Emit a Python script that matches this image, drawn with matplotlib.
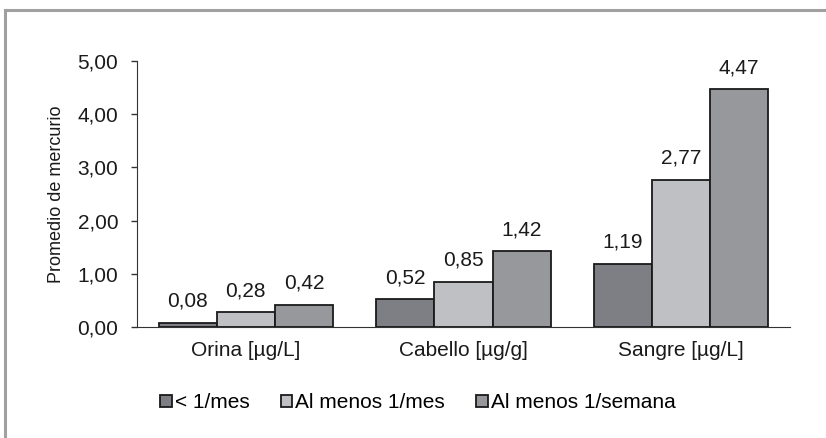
import numpy as np
import matplotlib.pyplot as plt
from matplotlib.lines import Line2D

plt.rcParams['font.family'] = ['Liberation Sans', 'DejaVu Sans']

categories = ["Orina [µg/L]", "Cabello [µg/g]", "Sangre [µg/L]"]
series_names = ["< 1/mes", "Al menos 1/mes", "Al menos 1/semana"]
menos_mes = [0.08, 0.52, 1.19]
al_menos_mes = [0.28, 0.85, 2.77]
al_menos_semana = [0.42, 1.42, 4.47]
colors = ["#7e7f84", "#bfc0c4", "#97989c"]


def fmt(v):
    return ("%.2f" % v).replace(".", ",")


fig = plt.figure(figsize=(8.26, 4.38), dpi=100)
ax = fig.add_axes([137 / 826, 1 - 327 / 438, (790 - 137) / 826, (327 - 61) / 438])

# partial grey frame (top and left edges)
fig.add_artist(Line2D([5 / 826, 1.01], [1 - 10 / 438, 1 - 10 / 438], color="#a0a0a0", lw=2.2,
                      transform=fig.transFigure))
fig.add_artist(Line2D([5 / 826, 5 / 826], [-0.01, 1 - 10 / 438], color="#a0a0a0", lw=2.2,
                      transform=fig.transFigure))

x = np.arange(len(categories))
w = 1 / 3.75
data = [menos_mes, al_menos_mes, al_menos_semana]
for i, vals in enumerate(data):
    pos = x + (i - 1) * w
    bars = ax.bar(pos, vals, w, color=colors[i], edgecolor="#1a1a1a", linewidth=1.3,
                  label=series_names[i], zorder=3)
    for b, v in zip(bars, vals):
        ax.annotate(fmt(v), (b.get_x() + b.get_width() / 2, v), xytext=(0, 11.5),
                    textcoords="offset points", ha="center", va="baseline",
                    fontsize=15, color="#1a1a1a")

ax.set_xlim(-0.5, 2.5)
ax.set_ylim(0, 5)
ax.set_yticks([0, 1, 2, 3, 4, 5])
ax.set_yticklabels([fmt(t) for t in [0, 1, 2, 3, 4, 5]], fontsize=15, color="#1a1a1a")
ax.set_xticks(x)
ax.set_xticklabels(categories, fontsize=15, color="#1a1a1a")
ax.tick_params(axis="x", length=0, pad=10)
ax.tick_params(axis="y", length=4.5, width=1, color="#333333", pad=9)
ax.spines["top"].set_visible(False)
ax.spines["right"].set_visible(False)
ax.spines["left"].set_color("#333333")
ax.spines["bottom"].set_color("#333333")
ax.set_ylabel("Promedio de mercurio", fontsize=13, color="#1a1a1a", labelpad=9)

fig.legend(loc="center", bbox_to_anchor=(418 / 826, 1 - 403 / 438), ncol=3, frameon=False,
           fontsize=15, handlelength=0.55, handleheight=0.55, handletextpad=0.15,
           columnspacing=1.5)

fig.savefig("out.png", dpi=100)
